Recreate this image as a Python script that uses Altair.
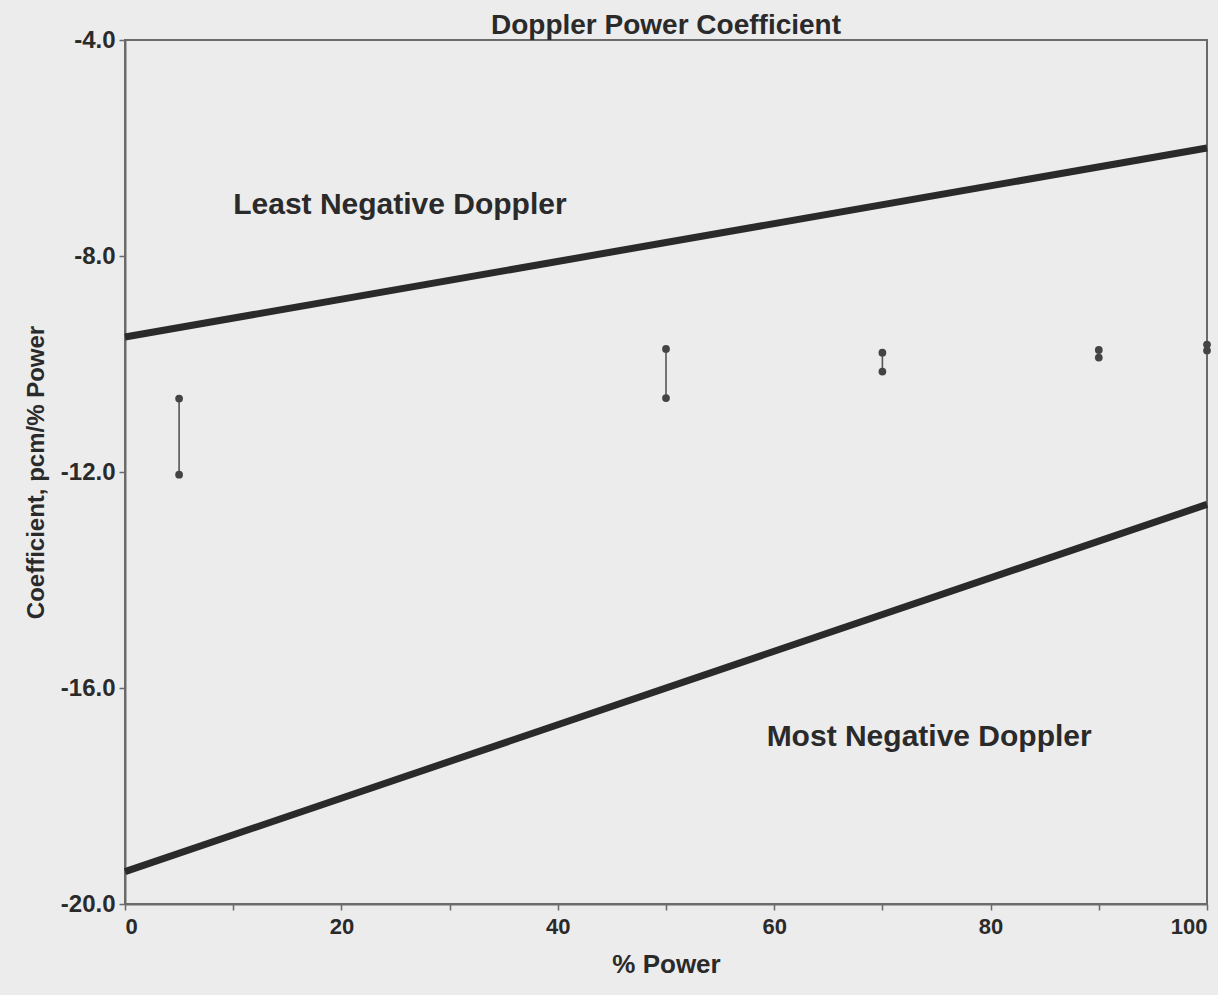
import altair as alt
import pandas as pd

# ---- data ----
power_ends = [0, 100]
least_negative = [-9.5, -6.0]
most_negative = [-19.4, -12.6]

meas_power = [5, 50, 70, 90, 100]
meas_low = [-12.05, -10.63, -10.14, -9.88, -9.75]
meas_high = [-10.64, -9.72, -9.79, -9.74, -9.64]

label_text = ["Least Negative Doppler", "Most Negative Doppler"]
label_power = [10.0, 59.3]
label_coef = [-7.05, -16.9]

x_ticks = [0, 10, 20, 30, 40, 50, 60, 70, 80, 90, 100]
y_ticks = [-4, -8, -12, -16, -20]

INK = "#2a2a2a"
AXIS = "#6a6a6a"
FONT = "Liberation Sans"

lines_df = pd.DataFrame({
    "power": power_ends * 2,
    "coef": least_negative + most_negative,
    "series": ["Least Negative Doppler"] * 2 + ["Most Negative Doppler"] * 2,
})
bars_df = pd.DataFrame({"power": meas_power, "low": meas_low, "high": meas_high})
ends_df = pd.DataFrame({
    "power": meas_power * 2,
    "coef": meas_low + meas_high,
})
labels_df = pd.DataFrame({"text": label_text, "power": label_power, "coef": label_coef})

xscale = alt.Scale(domain=[0, 100], nice=False, zero=False)
yscale = alt.Scale(domain=[-20, -4], nice=False, zero=False)

x_axis = alt.Axis(
    title="% Power", values=x_ticks,
    labelExpr="datum.value % 20 == 0 ? datum.label : ''",
    grid=False, domainColor=AXIS, domainWidth=2, tickColor=AXIS, tickWidth=1.5,
    tickSize=6, labelFont=FONT, labelFontSize=22, labelFontWeight="bold",
    labelColor=INK, titleFont=FONT, titleFontSize=26, titleFontWeight="bold",
    titleColor=INK, labelPadding=6, titlePadding=14,
)
y_axis = alt.Axis(
    title="Coefficient, pcm/% Power", values=y_ticks,
    labelExpr="'-' + format(abs(datum.value), '.1f')",
    grid=False, domainColor=AXIS, domainWidth=2, tickColor=AXIS, tickWidth=1.5,
    tickSize=6, labelFont=FONT, labelFontSize=24, labelFontWeight="bold",
    labelColor=INK, titleFont=FONT, titleFontSize=24, titleFontWeight="bold",
    titleColor=INK, labelPadding=4, titlePadding=12,
)

base_x = alt.X("power:Q", scale=xscale, axis=x_axis)

lines = alt.Chart(lines_df).mark_line(strokeWidth=7, color=INK).encode(
    x=base_x,
    y=alt.Y("coef:Q", scale=yscale, axis=y_axis),
    detail="series:N",
)

bars = alt.Chart(bars_df).mark_rule(strokeWidth=1.6, color="#555555").encode(
    x=alt.X("power:Q", scale=xscale),
    y=alt.Y("low:Q", scale=yscale),
    y2="high:Q",
)

ends = alt.Chart(ends_df).mark_point(filled=True, size=60, color="#444444", opacity=1).encode(
    x=alt.X("power:Q", scale=xscale),
    y=alt.Y("coef:Q", scale=yscale),
)

labels = alt.Chart(labels_df).mark_text(
    align="left", baseline="middle", font=FONT, fontSize=30,
    fontWeight="bold", color=INK,
).encode(
    x=alt.X("power:Q", scale=xscale),
    y=alt.Y("coef:Q", scale=yscale),
    text="text:N",
)

chart = (lines + bars + ends + labels).properties(
    width=1082,
    height=864,
    title=alt.TitleParams(
        "Doppler Power Coefficient", font=FONT, fontSize=28,
        fontWeight="bold", color=INK, anchor="middle", offset=-12,
    ),
    autosize=alt.AutoSizeParams(type="none"),
    padding={"left": 125, "top": 40, "right": 11, "bottom": 91},
    background="#ececec",
).configure_view(
    stroke=AXIS, strokeWidth=2,
)

chart.save("out.html", embed_options={"renderer": "svg", "actions": False})
